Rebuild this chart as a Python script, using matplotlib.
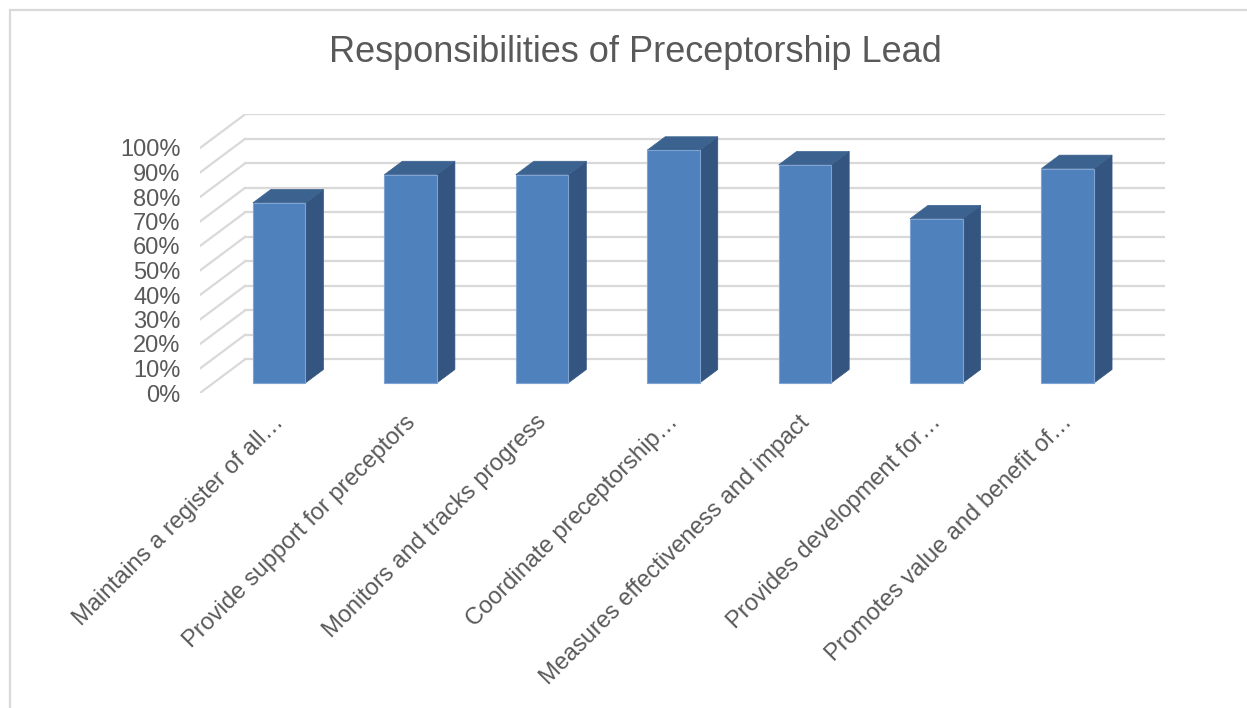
import numpy as np
import matplotlib
matplotlib.use("Agg")
import matplotlib.pyplot as plt
from matplotlib.patches import Polygon, Rectangle
from matplotlib.ticker import PercentFormatter

plt.rcParams["font.family"] = ["Liberation Sans", "DejaVu Sans"]

# ── data ─────────────────────────────────────────────────────────────────────
categories = [
    "Maintains a register of all\u2026",
    "Provide support for preceptors",
    "Monitors and tracks progress",
    "Coordinate preceptorship\u2026",
    "Measures effectiveness and impact",
    "Provides development for\u2026",
    "Promotes value and benefit of\u2026",
]
values = [0.735, 0.85, 0.85, 0.95, 0.89, 0.67, 0.875]
yticks = np.arange(0, 1.01, 0.1)
title = "Responsibilities of Preceptorship Lead"

# ── fake 3D geometry (oblique projection) ────────────────────────────────────
DX, DY = 0.342, 0.137      # full-depth offset in data units
Z0, DEPTH = 0.3, 0.4       # bar placement along the depth axis
BAR_W = 0.4
FRONT, SIDE, TOP = "#4F81BD", "#34557F", "#3C6390"
GRID = "#D9D9D9"
TXT = "#595959"

W, H = 1247, 708
fig = plt.figure(figsize=(W / 100, H / 100), dpi=100)
n = len(categories)
px_x, px_y = 131.43, 245.0
ax = fig.add_axes([200 / W, (H - 393) / H, (n + DX) * px_x / W, (1 + DY) * px_y / H])
ax.set_xlim(0, n + DX)
ax.set_ylim(0, 1 + DY)
for s in ax.spines.values():
    s.set_visible(False)

# back wall + side wall gridlines
for t in yticks:
    ax.plot([DX, n + DX], [t + DY, t + DY], color=GRID, lw=1.6, zorder=1)
    ax.plot([0, DX], [t, t + DY], color=GRID, lw=1.6, zorder=1)

# bars: front, side, top faces
for i, v in enumerate(values):
    x0 = i + 0.5 - BAR_W / 2 + Z0 * DX
    yb = Z0 * DY
    yt = yb + v
    dx, dy = DEPTH * DX, DEPTH * DY
    ax.add_patch(Polygon([(x0 + BAR_W, yb), (x0 + BAR_W + dx, yb + dy),
                          (x0 + BAR_W + dx, yt + dy), (x0 + BAR_W, yt)],
                         closed=True, facecolor=SIDE, edgecolor=SIDE, lw=0.5, zorder=3))
    ax.add_patch(Polygon([(x0, yt), (x0 + BAR_W, yt), (x0 + BAR_W + dx, yt + dy),
                          (x0 + dx, yt + dy)],
                         closed=True, facecolor=TOP, edgecolor=TOP, lw=0.5, zorder=3))
    ax.add_patch(Rectangle((x0, yb), BAR_W, v, facecolor=FRONT,
                           edgecolor="#7FA3D3", lw=0.8, zorder=4))

# axes ticks / labels
ax.set_yticks(yticks)
ax.yaxis.set_major_formatter(PercentFormatter(1.0, decimals=0))
ax.tick_params(axis="y", length=0, pad=14, labelsize=17, labelcolor=TXT)
centers = [i + 0.45 + Z0 * DX for i in range(n)]
ax.set_xticks(centers)
ax.set_xticklabels(categories, rotation=45, ha="right", rotation_mode="anchor")
ax.tick_params(axis="x", length=0, pad=13, labelsize=17, labelcolor=TXT)

fig.text(635 / W, 1 - 53 / H, title, ha="center", va="center", fontsize=26, color=TXT)

# chart frame
fig.patches.append(Rectangle((9.5 / W, -0.1), 1.2, 1.1 - 10.5 / H, transform=fig.transFigure,
                             fill=False, edgecolor=GRID, lw=1.6))

fig.savefig("out.png", dpi=100)
